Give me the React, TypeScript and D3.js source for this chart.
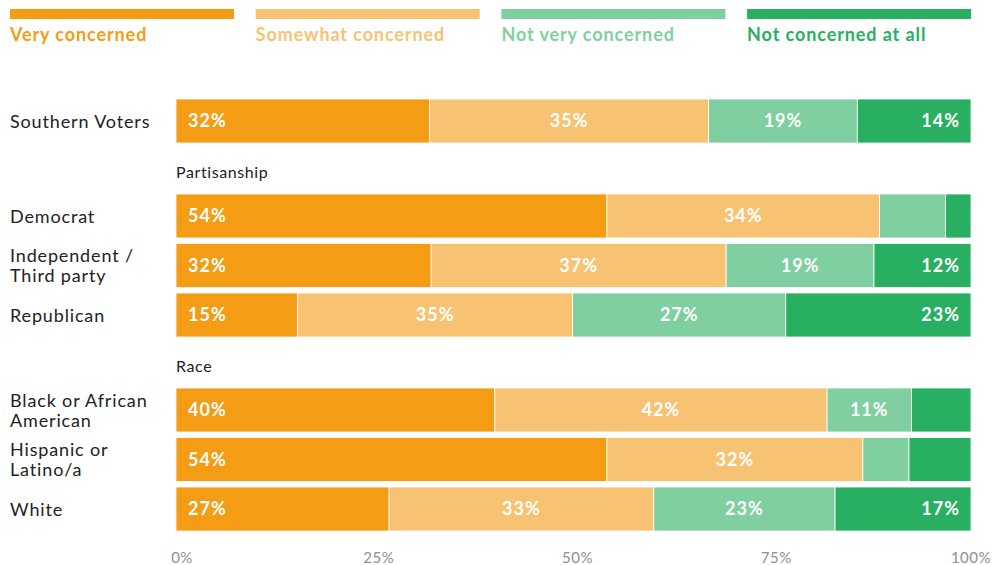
import React from "react";
import * as d3 from "d3";

const seriesNames = ["Very concerned", "Somewhat concerned", "Not very concerned", "Not concerned at all"];
const seriesColors = ["#F39C14", "#F7C373", "#7FCFA1", "#28AF61"];

const rowLabels: string[][] = [
  ["Southern Voters"],
  ["Democrat"],
  ["Independent /", "Third party"],
  ["Republican"],
  ["Black or African", "American"],
  ["Hispanic or", "Latino/a"],
  ["White"],
];
const rowGroups = ["", "Partisanship", "", "", "Race", "", ""];
const veryConcerned = [31.9, 54.2, 32.1, 15.3, 40.1, 54.2, 26.8];
const somewhatConcerned = [35.1, 34.3, 37.1, 34.6, 41.8, 32.2, 33.3];
const notVeryConcerned = [18.7, 8.3, 18.6, 26.8, 10.6, 5.8, 22.8];
const notConcernedAtAll = [14.2, 3.2, 12.2, 23.3, 7.5, 7.8, 17.1];
const rowLabelsShown: (string | null)[][] = [
  ["32%", "35%", "19%", "14%"],
  ["54%", "34%", null, null],
  ["32%", "37%", "19%", "12%"],
  ["15%", "35%", "27%", "23%"],
  ["40%", "42%", "11%", null],
  ["54%", "32%", null, null],
  ["27%", "33%", "23%", "17%"],
];
const axisTicks = [0, 25, 50, 75, 100];

const W = 993;
const H = 565;
const FONT = "Lato, 'Open Sans', sans-serif";

export default function App() {
  const x = d3.scaleLinear().domain([0, 100]).range([176, 971]);
  const rowTops = [99, 194, 243.5, 293, 388, 437.5, 487];
  const barH = 44;
  const series = [veryConcerned, somewhatConcerned, notVeryConcerned, notConcernedAtAll];

  return (
    <svg width={W} height={H} style={{ position: "absolute", left: 0, top: 0, background: "#fff" }}>
      {seriesNames.map((s, i) => (
        <g key={s}>
          <rect x={10 + i * 245.7} y={9} width={224} height={10} fill={seriesColors[i]} />
          <text x={10 + i * 245.7} y={41} fill={seriesColors[i]} fontFamily={FONT} fontWeight={700} fontSize={18} letterSpacing={0.9}>
            {s}
          </text>
        </g>
      ))}
      {rowLabels.map((lbl, r) => {
        const top = rowTops[r];
        const cy = top + barH / 2;
        let cum = 0;
        return (
          <g key={r}>
            {rowGroups[r] && (
              <text x={176} y={top - 16} fontFamily={FONT} fontSize={16} fill="#222" letterSpacing={0.6}>
                {rowGroups[r]}
              </text>
            )}
            {lbl.map((line, li) => (
              <text
                key={li}
                x={10}
                y={cy + 6.5 + (li - (lbl.length - 1) / 2) * 20}
                fontFamily={FONT}
                fontSize={18}
                fill="#222"
                letterSpacing={0.85}
              >
                {line}
              </text>
            ))}
            {series.map((vals, si) => {
              const v = vals[r];
              const x0 = x(cum);
              cum += v;
              const x1 = si === 3 ? x(100) : x(cum);
              const label = rowLabelsShown[r][si];
              let tx = (x0 + x1) / 2;
              let anchor: "start" | "middle" | "end" = "middle";
              if (si === 0) {
                tx = x0 + 12;
                anchor = "start";
              } else if (si === 3) {
                tx = x1 - 11;
                anchor = "end";
              }
              return (
                <g key={si}>
                  <rect x={x0} y={top} width={x1 - x0} height={barH} fill={seriesColors[si]} stroke="#fff" strokeWidth={0.8} />
                  {label && (
                    <text x={tx} y={cy + 6} textAnchor={anchor} fontFamily={FONT} fontWeight={700} fontSize={18} fill="#fff" letterSpacing={1}>
                      {label}
                    </text>
                  )}
                </g>
              );
            })}
          </g>
        );
      })}
      {axisTicks.map((t) => (
        <text
          key={t}
          x={t === 0 ? x(t) + 6 : t === 100 ? x(t) : x(t) + 4}
          y={563}
          textAnchor="middle"
          fontFamily={FONT}
          fontSize={15}
          fill="#8f8f8f"
          letterSpacing={0.5}
        >
          {t}%
        </text>
      ))}
    </svg>
  );
}
